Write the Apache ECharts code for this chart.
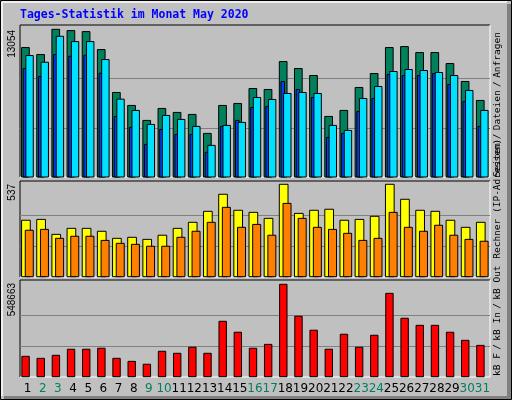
<!DOCTYPE html>
<html><head><meta charset="utf-8">
<script src="https://cdn.jsdelivr.net/npm/echarts@6/dist/echarts.min.js"></script>
<style>html,body{margin:0;padding:0;background:#c0c0c0}#c{width:512px;height:400px}</style>
</head><body><div id="c"></div>
<script>
var days = ['1','2','3','4','5','6','7','8','9','10','11','12','13','14','15','16','17','18','19','20','21','22','23','24','25','26','27','28','29','30','31'];
var weekend = [2,3,9,10,16,17,23,24,30,31];
var hits  = [11440,10822,13054,12939,12851,11263,7471,6324,5001,6059,5707,5530,3854,6324,6500,7823,7735,10205,9587,8970,5354,5883,7912,9146,11440,11528,10999,10999,10028,8441,6765];
var files = [9587,8882,10822,10672,10760,9173,5354,4384,2884,4207,3766,3766,2179,4472,5001,6148,6236,8441,7735,7030,3502,3854,5795,6941,9058,8970,8970,9146,8176,6677,4472];
var pages = [10734,10143,12436,11969,11969,10381,6880,5883,4648,5442,5089,4472,2796,4560,4825,7030,6853,7382,7471,7382,4560,4119,6941,8000,9323,9499,9411,9235,8970,7647,5883];
var visits = [328,333,246,281,281,264,223,229,217,241,281,316,380,479,386,374,339,537,368,386,392,328,333,351,537,450,386,380,328,287,316];
var sites  = [270,275,223,235,235,211,194,188,177,177,229,264,316,403,287,304,241,426,339,287,275,252,211,223,374,287,264,299,241,217,206];
var kbytes = [121000,109000,127000,163000,163000,169000,109000,91000,74000,151000,139000,175000,139000,329000,264000,169000,192000,548663,359000,276000,163000,252000,175000,246000,495000,347000,305000,305000,264000,216000,186000];
var maxHits = 13054, maxVisits = 537, maxKb = 548663;

function barSeries(data, gi, x0, x1, color, name){
  return {type:'custom', name:name, xAxisIndex:gi, yAxisIndex:gi,
    data: data.map(function(v,i){return [i,v];}),
    renderItem:function(params, api){
      var top = api.coord([api.value(0), api.value(1)]);
      var bot = api.coord([api.value(0), 0]);
      return {type:'rect', shape:{x:top[0]+x0, y:top[1], width:x1-x0, height:bot[1]-top[1]},
        style:{fill:color, stroke:'#000', lineWidth:1}};
    }};
}
var grids = [{left:20,right:22,top:29.3,height:147.7},{left:20,right:22,top:184.3,height:92.4},{left:20,right:22,top:284.3,height:92.4}];
var maxes = [maxHits,maxVisits,maxKb];
var xAxes = grids.map(function(g,i){
  return {type:'category', gridIndex:i, data:days, axisLine:{show:false}, axisTick:{show:false},
    axisLabel: i<2 ? {show:false} : {show:true, interval:0, margin:6, fontFamily:'DejaVu Sans', fontSize:12,
      formatter:function(v){return weekend.indexOf(+v)>=0 ? '{w|'+v+'}' : '{n|'+v+'}';},
      rich:{w:{color:'#008060',fontFamily:'DejaVu Sans',fontSize:12},n:{color:'#000',fontFamily:'DejaVu Sans',fontSize:12}}}};
});
var yAxes = grids.map(function(g,i){
  return {type:'value', gridIndex:i, min:0, max:maxes[i], interval:maxes[i]/3, axisLabel:{show:false},
    axisLine:{show:false}, axisTick:{show:false},
    splitLine:{show:true, showMinLine:false, showMaxLine:false, lineStyle:{color:'#808080',width:1}}};
});
function panel(y0,y1){
  return [
    {type:'line', shape:{x1:20,y1:y0,x2:490,y2:y0}, style:{stroke:'#000',lineWidth:1}},
    {type:'line', shape:{x1:20,y1:y0,x2:20,y2:y1}, style:{stroke:'#000',lineWidth:1}},
    {type:'line', shape:{x1:490,y1:y0,x2:490,y2:y1}, style:{stroke:'#fff',lineWidth:1}},
    {type:'line', shape:{x1:20,y1:y1,x2:490,y2:y1}, style:{stroke:'#fff',lineWidth:1}}
  ];
}
function vtext(x,y,align,text,rich){
  return {type:'text', x:x, y:y, rotation:Math.PI/2,
    style:{text:text, align:align, verticalAlign:'middle', fontFamily:'Liberation Sans', fontSize:10, fill:'#000', rich:rich}};
}
var mono = {fontFamily:'DejaVu Sans Mono', fontSize:9.5};
function r(c){return {color:c, fontFamily:'DejaVu Sans Mono', fontSize:9.5};}
var graphics = [].concat(
  [{type:'rect', shape:{x:0.5,y:0.5,width:511,height:399}, style:{fill:'none',stroke:'#000',lineWidth:1}},
   {type:'line', shape:{x1:2,y1:2,x2:2,y2:396}, style:{stroke:'#fff',lineWidth:1.5}},
   {type:'line', shape:{x1:2,y1:2,x2:507,y2:2}, style:{stroke:'#fff',lineWidth:1.5}},
   {type:'rect', shape:{x:507,y:4,width:4,height:395}, style:{fill:'#808080'}},
   {type:'rect', shape:{x:4,y:396,width:507,height:3}, style:{fill:'#808080'}},
   {type:'text', x:20, y:15, style:{text:'Tages-Statistik im Monat May 2020', fill:'#0000ff', fontFamily:'DejaVu Sans Mono', fontWeight:'bold', fontSize:11.5, verticalAlign:'middle'}},
   vtext(12,30,'right','13054'), vtext(12,184,'right','537'), vtext(12,283,'right','548663'),
   {type:'text', x:498, y:376, rotation:Math.PI/2, style:{align:'left', verticalAlign:'middle',
     text:'{r|kB F} {k|/} {b|kB In} {k|/} {g|kB Out}  {o|Rechner (IP-Adressen)}',
     rich:{r:r('#ff0000'),k:r('#000'),b:r('#0080ff'),g:r('#00c000'),o:r('#ff8000')}}},
   {type:'text', x:498, y:177, rotation:Math.PI/2, style:{align:'left', verticalAlign:'middle',
     text:'{c|Seiten} {k|/} {b|Dateien} {k|/} {g|Anfragen}',
     rich:{c:r('#ff9900'),k:r('#000'),b:r('#0040ff'),g:r('#008060')}}}
  ], panel(25,177), panel(181,277), panel(280,377));

var chart = echarts.init(document.getElementById('c'), null, {renderer:'canvas'});
chart.setOption({
  backgroundColor:'#c0c0c0', animation:false,
  grid:grids, xAxis:xAxes, yAxis:yAxes,
  series:[
    barSeries(hits,0,-6,1.7,'#00805c','Anfragen'),
    barSeries(files,0,-4.3,-0.8,'#0040ff','Dateien'),
    barSeries(pages,0,-1.7,5.7,'#00e0ff','Seiten'),
    barSeries(visits,1,-6,2.7,'#ffff00','Besuche'),
    barSeries(sites,1,-2.3,5.7,'#ff8000','Rechner'),
    barSeries(kbytes,2,-5.7,1.7,'#ff0000','kB F')
  ],
  graphic:{elements:graphics}
});
</script></body></html>
